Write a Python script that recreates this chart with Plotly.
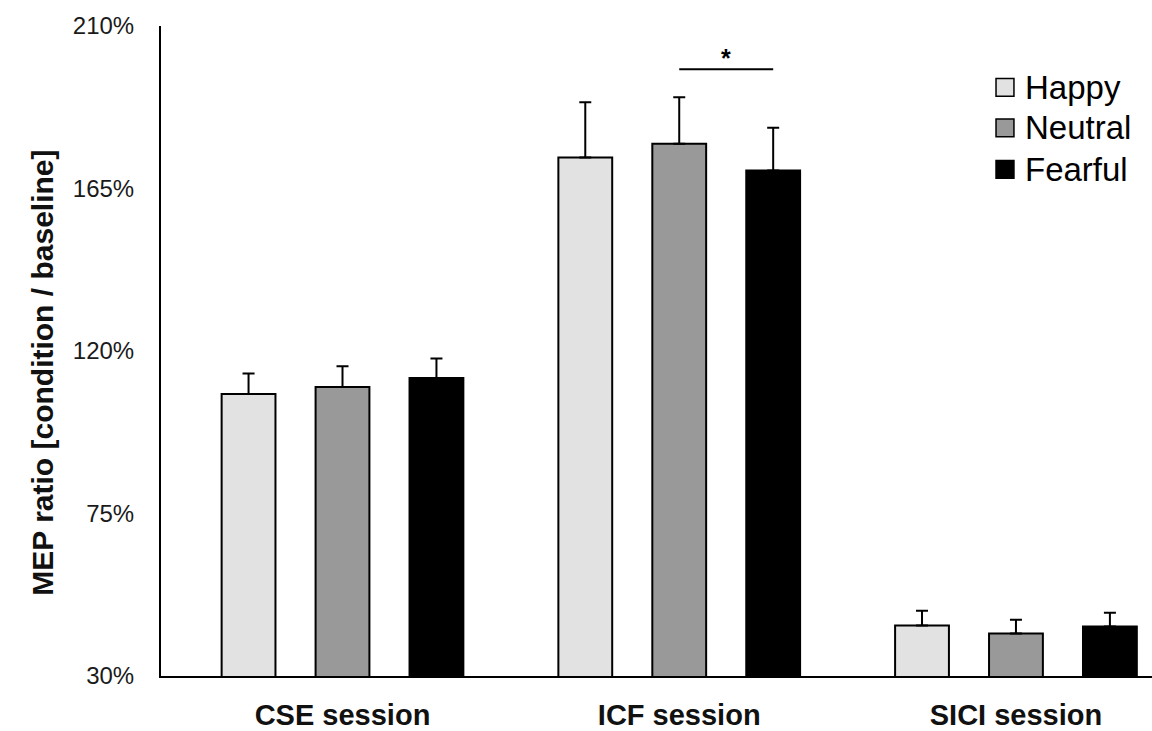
import plotly.graph_objects as go

sessions = ["CSE session", "ICF session", "SICI session"]
conditions = ["Happy", "Neutral", "Fearful"]
colors = ["#e2e2e2", "#999999", "#000000"]

happy = [108.1, 173.6, 44.0]
neutral = [110.0, 177.4, 41.8]
fearful = [112.5, 170.0, 43.7]
happy_err = [5.7, 15.3, 4.1]
neutral_err = [5.8, 12.9, 3.8]
fearful_err = [5.4, 11.8, 3.8]

yticks = [30, 75, 120, 165, 210]
ytick_text = ["30%", "75%", "120%", "165%", "210%"]

values = [happy, neutral, fearful]
errors = [happy_err, neutral_err, fearful_err]

xpos = list(range(len(sessions)))

fig = go.Figure()
for name, col, vals, errs in zip(conditions, colors, values, errors):
    fig.add_trace(go.Bar(
        x=xpos, y=vals, name=name,
        marker=dict(color=col, line=dict(color="black", width=2)),
        error_y=dict(type="data", array=errs, arrayminus=[0] * len(errs),
                     symmetric=False, color="black", thickness=2, width=6),
        showlegend=False,
    ))

bargap = 0.163
slot = (1 - bargap) / 3

fig.update_layout(
    width=1152, height=731,
    margin=dict(l=161, r=0, t=26, b=48),
    paper_bgcolor="white", plot_bgcolor="white",
    barmode="group", bargap=bargap, bargroupgap=0.427,
    font=dict(family="Liberation Sans, Arial, sans-serif", color="#111111"),
    xaxis=dict(range=[-0.539, 2.404], tickvals=xpos, ticktext=sessions,
               showline=True, linecolor="black", linewidth=2,
               showgrid=False, zeroline=False, ticks="",
               ticklabelstandoff=12,
               tickfont=dict(size=29, family="Liberation Sans, Arial, sans-serif",
                             weight="bold", color="#111111")),
    yaxis=dict(range=[30, 210], tickvals=yticks, ticktext=ytick_text,
               showline=True, linecolor="black", linewidth=2,
               showgrid=False, zeroline=False, ticks="",
               ticklabelstandoff=20,
               tickfont=dict(size=24, color="#1a1a1a")),
)

# y-axis title
fig.add_annotation(text="MEP ratio [condition / baseline]", textangle=-90,
                   xref="paper", x=0, xshift=-118, xanchor="center",
                   yref="y", y=114, yanchor="middle", showarrow=False,
                   font=dict(size=30, weight="bold", color="#111111"))

# significance bracket between Neutral and Fearful (ICF)
x_neu = 1
x_fea = 1 + slot
fig.add_shape(type="line", xref="x", yref="y", x0=x_neu, x1=x_fea,
              y0=198.0, y1=198.0, line=dict(color="black", width=2))
fig.add_annotation(text="*", xref="x", yref="y", x=(x_neu + x_fea) / 2,
                   y=201.2, yanchor="middle", showarrow=False,
                   font=dict(size=25, weight="bold", color="black"))

# manual legend
leg_y = [0.9056, 0.8432, 0.7793]
half = 0.0137
for name, col, yy in zip(conditions, colors, leg_y):
    fig.add_shape(type="rect", xref="paper", yref="paper",
                  x0=0.8426, x1=0.8607, y0=yy - half, y1=yy + half,
                  fillcolor=col, line=dict(color="black", width=1.5))
    fig.add_annotation(text=name, xref="paper", yref="paper", x=0.8698, y=yy,
                       xanchor="left", yanchor="middle", showarrow=False,
                       font=dict(size=33, color="black"))

fig.write_html("out.html", config={"displayModeBar": False},
               post_script="document.body.style.margin='0';document.body.style.padding='0';")
